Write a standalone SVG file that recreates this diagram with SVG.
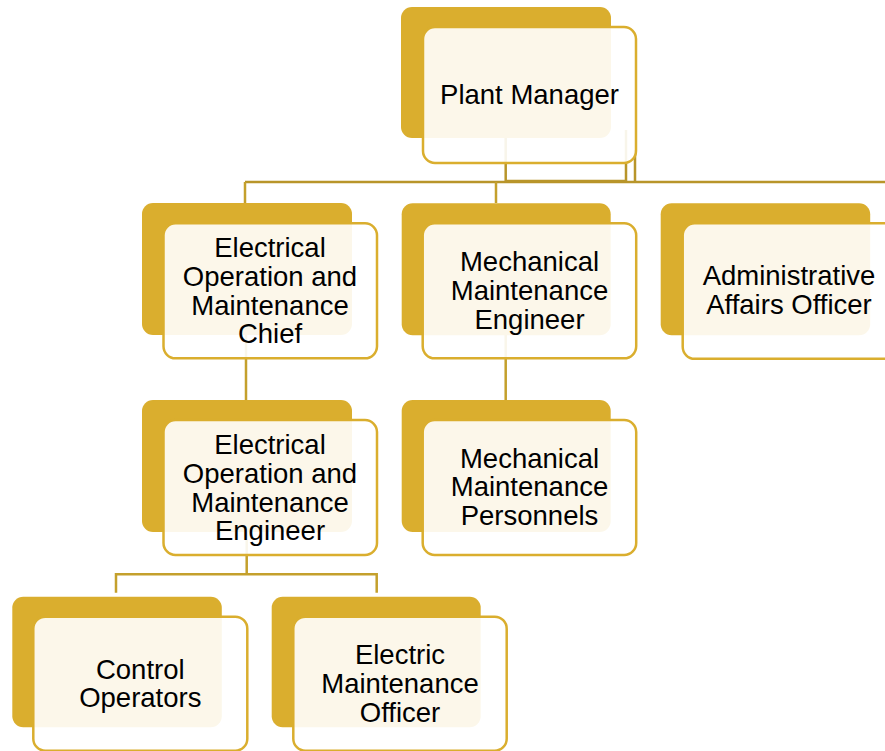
<svg xmlns="http://www.w3.org/2000/svg" width="885" height="751" viewBox="0 0 885 751">
<style>
.bg{fill:#DAAE2E}
.fr{fill:#FFFFFF;fill-opacity:0.9;stroke:#DAAE2E;stroke-width:2.5}
.t{font-family:"Liberation Sans",Arial,sans-serif;font-size:27.5px;fill:#000;text-anchor:middle}
.c{fill:none;stroke:#C4A02C;stroke-width:2.5}
.c2{fill:none;stroke:#B8952A;stroke-width:2.5}
</style>
<rect width="885" height="751" fill="#FFFFFF"/>
<g id="connectors">
<path class="c2" d="M245 182 H885"/>
<path class="c2" d="M505.7 130 V181 H626 V130 M635 150 V182"/>
<path class="c" d="M245 182 V203 M496 182 V203"/>
<path class="c" d="M246 320 V400 M505.7 320 V400"/>
<path class="c" d="M246.7 520 V574.3 M116 592.7 V574.3 H376.7 V592.7"/>
</g>
<g id="plant-manager">
<rect class="bg" x="401" y="7" width="210" height="131" rx="11"/>
<rect class="fr" x="423" y="27" width="213" height="136" rx="12"/>
<text class="t" x="529.5" y="104">Plant Manager</text>
</g>
<g id="electrical-chief">
<rect class="bg" x="142" y="203" width="210" height="132" rx="11"/>
<rect class="fr" x="163.5" y="223.3" width="213.5" height="135" rx="12"/>
<text class="t" x="270" y="257">Electrical</text>
<text class="t" x="270" y="286">Operation and</text>
<text class="t" x="270" y="314.5">Maintenance</text>
<text class="t" x="270" y="343">Chief</text>
</g>
<g id="mechanical-engineer">
<rect class="bg" x="401.7" y="203.3" width="209" height="132" rx="11"/>
<rect class="fr" x="422.7" y="223.3" width="213.5" height="135" rx="12"/>
<text class="t" x="529.5" y="271">Mechanical</text>
<text class="t" x="529.5" y="300">Maintenance</text>
<text class="t" x="529.5" y="328.5">Engineer</text>
</g>
<g id="administrative-officer">
<rect class="bg" x="660.7" y="203.3" width="209.5" height="132" rx="11"/>
<rect class="fr" x="682.7" y="223.3" width="213.5" height="135.5" rx="12"/>
<text class="t" x="789" y="285">Administrative</text>
<text class="t" x="789" y="313.5">Affairs Officer</text>
</g>
<g id="electrical-engineer">
<rect class="bg" x="142" y="400" width="210" height="132" rx="11"/>
<rect class="fr" x="163.5" y="420" width="213.5" height="135" rx="12"/>
<text class="t" x="270" y="454">Electrical</text>
<text class="t" x="270" y="483">Operation and</text>
<text class="t" x="270" y="511.5">Maintenance</text>
<text class="t" x="270" y="540">Engineer</text>
</g>
<g id="mechanical-personnels">
<rect class="bg" x="401.7" y="400" width="209" height="132" rx="11"/>
<rect class="fr" x="422.7" y="420" width="213.5" height="135" rx="12"/>
<text class="t" x="529.5" y="467.5">Mechanical</text>
<text class="t" x="529.5" y="496">Maintenance</text>
<text class="t" x="529.5" y="525">Personnels</text>
</g>
<g id="control-operators">
<rect class="bg" x="12.3" y="596.7" width="209.5" height="130.6" rx="11"/>
<rect class="fr" x="33.3" y="616.7" width="214" height="134" rx="12"/>
<text class="t" x="140.3" y="678.5">Control</text>
<text class="t" x="140.3" y="707">Operators</text>
</g>
<g id="electric-maintenance-officer">
<rect class="bg" x="271.7" y="596.7" width="209" height="130.6" rx="11"/>
<rect class="fr" x="293.3" y="616.7" width="213.4" height="134" rx="12"/>
<text class="t" x="400" y="663.5">Electric</text>
<text class="t" x="400" y="692.5">Maintenance</text>
<text class="t" x="400" y="721.5">Officer</text>
</g>
</svg>
